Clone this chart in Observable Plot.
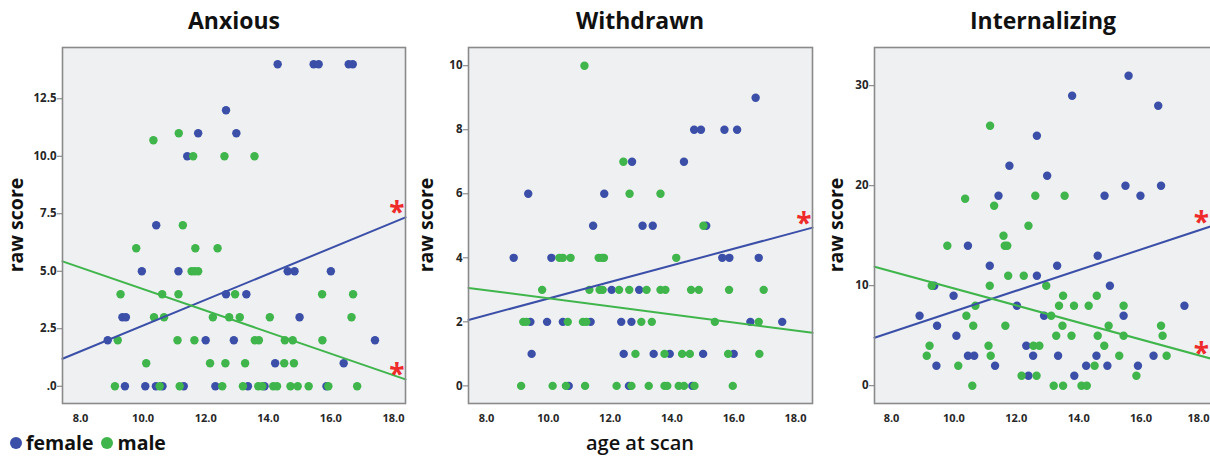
<!DOCTYPE html>
<html>
<head>
<meta charset="utf-8">
<script src="https://cdn.jsdelivr.net/npm/d3@7"></script>
<script src="https://cdn.jsdelivr.net/npm/@observablehq/plot@0.6"></script>
<style>
  html, body { margin: 0; padding: 0; background: #fff; overflow: hidden; }
  #wrap { position: relative; width: 1210px; height: 456px; overflow: hidden; font-family: "Open Sans", sans-serif; }
  #wrap svg { position: absolute; top: 0; }
  #wrap svg g[aria-label$="tick label"] text { font-weight: 700; }
  .title { position: absolute; top: 5px; width: 300px; text-align: center; font-size: 23px; font-weight: 700; color: #111; line-height: 30px; }
  .ylab { position: absolute; width: 120px; height: 24px; line-height: 24px; text-align: center; font-size: 19.5px; font-weight: 700; color: #111; transform: rotate(-90deg); }
  .legend { position: absolute; left: 10px; top: 432px; font-size: 19.5px; font-weight: 700; color: #111; line-height: 22px; white-space: nowrap; }
  .legend .sw { display: inline-block; width: 12px; height: 12px; border-radius: 50%; vertical-align: 1px; margin-right: 4px; }
  .xlab { position: absolute; left: 540px; width: 200px; top: 432px; text-align: center; font-size: 20px; font-weight: 600; color: #111; line-height: 22px; }
</style>
</head>
<body>
<div id="wrap"></div>
<script>
// ---------- data ----------
const sexes = ["female", "male"];
const sexColors = ["#3b4fa8", "#3fb54b"];
const xTicks = [8, 10, 12, 14, 16, 18];
const panelTitles = ["Anxious", "Withdrawn", "Internalizing"];
const yAxisLabel = "raw score";
const xAxisLabel = "age at scan";

// [age at scan, raw score]
const anxiousFemale = [[14.30,14],[15.45,14],[15.61,14],[16.57,14],[16.70,14],
  [12.65,12],[11.76,11],[12.98,11],[11.41,10],[10.42,7],
  [9.96,5],[11.13,5],[14.62,5],[14.84,5],[16.00,5],
  [12.65,4],[13.30,4],[9.34,3],[9.45,3],[15.00,3],
  [8.87,2],[12.00,2],[12.90,2],[17.41,2],[14.22,1],[16.41,1],
  [9.42,0],[10.07,0],[10.41,0],[10.62,0],[11.30,0],[12.31,0],[13.35,0],[13.88,0],[15.86,0]];
const anxiousMale = [[11.14,11],[10.33,10.7],[11.60,10],[12.60,10],[13.56,10],[11.27,7],
  [9.78,6],[11.67,6],[12.38,6],[11.55,5],[11.65,5],[11.76,5],
  [9.28,4],[10.61,4],[11.13,4],[12.94,4],[15.72,4],[16.71,4],
  [10.35,3],[10.67,3],[12.23,3],[12.75,3],[13.09,3],[14.05,3],[16.66,3],
  [9.19,2],[11.10,2],[11.64,2],[13.57,2],[13.70,2],[14.53,2],[14.78,2],[15.73,2],
  [10.10,1],[12.14,1],[12.63,1],[13.26,1],[14.51,1],[14.82,1],
  [9.10,0],[10.53,0],[11.17,0],[12.53,0],[13.19,0],[13.68,0],[13.81,0],[14.16,0],[14.28,0],[14.71,0],[14.94,0],[15.29,0],[15.92,0],[16.84,0]];

const withdrawnFemale = [[16.71,9],[14.72,8],[14.94,8],[15.70,8],[16.11,8],
  [12.71,7],[14.39,7],[9.35,6],[11.81,6],
  [11.45,5],[13.05,5],[13.38,5],[15.11,5],
  [8.88,4],[10.10,4],[15.63,4],[15.86,4],[16.81,4],[12.05,3],[12.94,3],
  [9.42,2],[9.96,2],[10.47,2],[11.37,2],[12.36,2],[12.69,2],[16.54,2],[17.57,2],
  [9.46,1],[12.44,1],[13.41,1],[13.93,1],[15.01,1],[16.00,1],
  [10.66,0],[12.61,0],[14.66,0]];
const withdrawnMale = [[11.17,10],[12.43,7],[12.63,6],[13.63,6],[15.02,5],
  [10.36,4],[10.47,4],[10.72,4],[11.63,4],[11.74,4],[11.80,4],[14.14,4],
  [9.80,3],[11.33,3],[11.66,3],[11.76,3],[12.29,3],[12.62,3],[13.18,3],[13.63,3],[13.79,3],[14.62,3],[14.87,3],[15.85,3],[16.97,3],
  [9.19,2],[9.29,2],[10.63,2],[11.12,2],[11.23,2],[13.01,2],[13.35,2],[15.39,2],[16.81,2],
  [12.82,1],[13.76,1],[14.33,1],[14.58,1],[15.82,1],[16.83,1],
  [9.12,0],[10.14,0],[10.57,0],[11.19,0],[12.21,0],[12.69,0],[13.25,0],[13.76,0],[13.85,0],[14.22,0],[14.39,0],[14.73,0],[15.97,0]];

const internalFemale = [[15.60,31],[13.79,29],[16.55,28],[12.66,25],[11.78,22],[12.99,21],[15.50,20],[16.64,20],
  [11.43,19],[14.83,19],[15.98,19],[10.45,14],[14.61,13],[11.15,12],[13.31,12],[12.66,11],[9.37,10],[15.00,10],
  [9.99,9],[12.02,8],[17.39,8],[8.90,7],[12.89,7],[15.44,7],[9.46,6],[10.08,5],[12.32,4],
  [10.45,3],[10.65,3],[12.54,3],[13.34,3],[14.57,3],[16.40,3],
  [9.44,2],[11.32,2],[14.24,2],[14.92,2],[15.90,2],[12.39,1],[13.86,1]];
const internalMale = [[11.16,26],[10.36,18.7],[12.61,19],[13.55,19],[11.29,18],[12.39,16],[11.59,15],
  [9.79,14],[11.63,14],[11.71,14],[11.74,11],[12.24,11],[9.29,10],[11.15,10],[12.96,10],
  [13.50,9],[14.58,9],[10.69,8],[13.37,8],[13.85,8],[14.32,8],[15.44,8],[10.40,7],[13.12,7],
  [10.62,6],[11.65,6],[13.48,6],[14.96,6],[16.64,6],[13.28,5],[13.77,5],[14.61,5],[15.44,5],[16.69,5],
  [9.22,4],[11.11,4],[12.55,4],[12.74,4],[14.82,4],[9.13,3],[11.18,3],[15.30,3],[16.82,3],
  [10.14,2],[14.51,2],[12.17,1],[12.65,1],[15.85,1],
  [10.59,0],[13.20,0],[13.50,0],[14.09,0],[14.26,0]];

// linear fits: score = intercept + slope * age ; sig = marked with *
const anxiousFit = [{sex:"female", intercept:-2.97, slope:0.561, sig:true}, {sex:"male", intercept:8.905, slope:-0.468, sig:true}];
const withdrawnFit = [{sex:"female", intercept:0.139, slope:0.259, sig:true}, {sex:"male", intercept:3.993, slope:-0.1258, sig:false}];
const internalFit = [{sex:"female", intercept:-2.90, slope:1.033, sig:true}, {sex:"male", intercept:18.25, slope:-0.852, sig:true}];

const anxiousYTicks = [0, 2.5, 5, 7.5, 10, 12.5];
const anxiousYLabels = [".0", "2.5", "5.0", "7.5", "10.0", "12.5"];
const withdrawnYTicks = [0, 2, 4, 6, 8, 10];
const internalYTicks = [0, 10, 20, 30];

// ---------- drawing ----------
const wrap = document.getElementById("wrap");

function panel(o) {
  const pts = [
    ...o.female.map(([a, s]) => ({age: a, score: s, sex: "female"})),
    ...o.male.map(([a, s]) => ({age: a, score: s, sex: "male"}))
  ];
  const lines = o.fit.flatMap(f => o.xDomain.map(x => ({sex: f.sex, age: x, score: f.intercept + f.slope * x})));
  const starX = o.starX ?? o.xDomain[1];
  const stars = o.fit.filter(f => f.sig).map(f => ({sex: f.sex, age: starX, score: f.intercept + f.slope * starX}));
  const xAxisOpts = {tickFormat: d => d.toFixed(1), tickSize: 0, tickPadding: 11, fontSize: 11, fontWeight: "bold", label: null};
  const xAxes = o.edgeTick
    ? [Plot.axisX({...xAxisOpts, ticks: xTicks.slice(0, -1)}),
       Plot.axisX({...xAxisOpts, ticks: xTicks.slice(-1), textAnchor: "end", dx: 6})]
    : [Plot.axisX({...xAxisOpts, ticks: xTicks})];
  const svg = Plot.plot({
    width: o.width, height: 456,
    marginLeft: o.marginLeft, marginRight: o.marginRight, marginTop: 47, marginBottom: 53,
    x: {domain: o.xDomain},
    y: {domain: o.yDomain},
    color: {domain: sexes, range: sexColors},
    style: {background: "transparent", fontFamily: "'Open Sans', sans-serif", color: "#262626", overflow: "visible"},
    marks: [
      Plot.frame({fill: "#eef0f1", stroke: null}),
      Plot.dot(pts, {x: "age", y: "score", r: 4.2, fill: "sex"}),
      Plot.line(lines, {x: "age", y: "score", z: "sex", stroke: "sex", strokeWidth: 2}),
      Plot.frame({stroke: "#8a8a8a", strokeWidth: 1.6}),
      ...xAxes,
      Plot.axisY({ticks: o.yTicks, tickFormat: o.yFormat, tickSize: 5, tickPadding: 1, fontSize: 11.5, fontWeight: "bold", stroke: "#777", label: null}),
      Plot.text(stars, {x: "age", y: "score", text: () => "*", fill: "#ef2a2a", fontSize: 28, fontWeight: "bold", textAnchor: "end", dx: -1, dy: -4})
    ]
  });
  svg.style.left = o.left + "px";
  wrap.appendChild(svg);
}

panel({female: anxiousFemale, male: anxiousMale, fit: anxiousFit,
  xDomain: [7.425, 18.385], yDomain: [-0.75, 14.73], yTicks: anxiousYTicks,
  yFormat: d => anxiousYLabels[anxiousYTicks.indexOf(d)],
  left: 0, width: 410, marginLeft: 62, marginRight: 5});
panel({female: withdrawnFemale, male: withdrawnMale, fit: withdrawnFit,
  xDomain: [7.417, 18.55], yDomain: [-0.55, 10.57], yTicks: withdrawnYTicks,
  yFormat: d => String(d),
  left: 410, width: 410, marginLeft: 58, marginRight: 8});
panel({female: internalFemale, male: internalMale, fit: internalFit,
  xDomain: [7.455, 18.45], yDomain: [-1.78, 33.82], yTicks: internalYTicks,
  yFormat: d => String(d), starX: 18.21, edgeTick: true,
  left: 820, width: 400, marginLeft: 54, marginRight: 3});

// titles & labels
const titleCenters = [234, 640, 1043];
panelTitles.forEach((t, i) => {
  const d = document.createElement("div");
  d.className = "title"; d.textContent = t;
  d.style.left = (titleCenters[i] - 150) + "px";
  wrap.appendChild(d);
});
const ylabCenters = [16, 426, 836];
ylabCenters.forEach(cx => {
  const d = document.createElement("div");
  d.className = "ylab"; d.textContent = yAxisLabel;
  d.style.left = (cx - 60) + "px"; d.style.top = (225 - 12) + "px";
  wrap.appendChild(d);
});
const xl = document.createElement("div");
xl.className = "xlab"; xl.textContent = xAxisLabel;
wrap.appendChild(xl);

const lg = document.createElement("div");
lg.className = "legend";
sexes.forEach((s, i) => {
  const sw = document.createElement("span");
  sw.className = "sw"; sw.style.background = sexColors[i];
  if (i > 0) sw.style.marginLeft = "8px";
  lg.appendChild(sw);
  lg.appendChild(document.createTextNode(s));
});
wrap.appendChild(lg);
</script>
</body>
</html>
